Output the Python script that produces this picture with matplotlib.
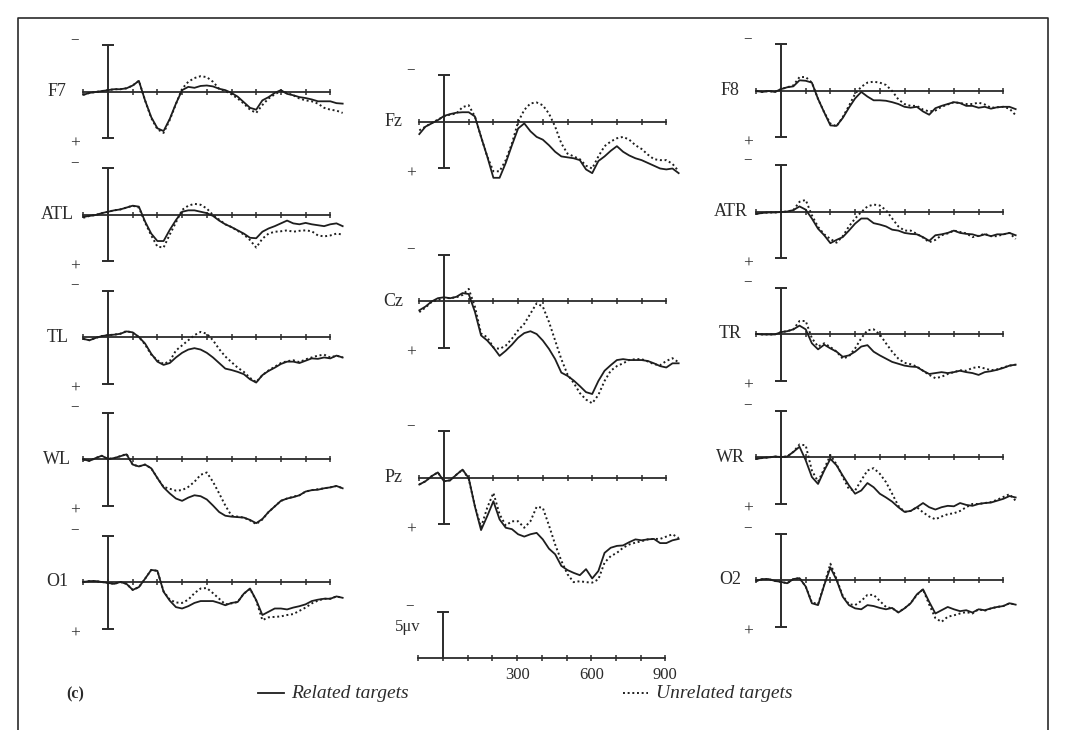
import numpy as np
import matplotlib.pyplot as plt

plt.rcParams['font.family'] = ['Liberation Serif', 'DejaVu Serif']

# sampling grid of every trace, ms after stimulus
t = np.arange(-100, 951, 25)

# grand-average ERPs in microvolts (negative drawn upward)
f7_rel = [0.3, 0.1, 0.0, -0.1, -0.2, -0.3, -0.3, -0.4,
          -0.7, -1.2, 0.9, 2.7, 3.9, 4.2, 2.9, 1.25,
          -0.2, -0.55, -0.45, -0.65, -0.7, -0.6, -0.35, -0.2,
          0.1, 0.5, 1.1, 1.7, 1.9, 0.9, 0.55, 0.1,
          -0.2, 0.2, 0.35, 0.55, 0.65, 0.8, 1.0, 1.0,
          1.0, 1.2, 1.25]
f7_unrel = [0.3, 0.1, 0.0, -0.1, -0.2, -0.3, -0.3, -0.4,
            -0.7, -1.2, 0.9, 2.8, 4.0, 4.4, 3.0, 1.3,
            -0.35, -1.1, -1.5, -1.7, -1.6, -1.1, -0.35, -0.1,
            0.25, 0.7, 1.25, 1.9, 2.25, 1.4, 0.7, 0.25,
            -0.1, 0.1, 0.35, 0.7, 0.9, 1.0, 1.25, 1.7,
            1.9, 2.0, 2.25]
atl_rel = [0.2, 0.1, 0.0, -0.2, -0.35, -0.5, -0.6, -0.8,
           -1.0, -0.9, 0.7, 2.0, 2.8, 2.8, 1.6, 0.55,
           -0.35, -0.5, -0.5, -0.35, -0.2, 0.1, 0.6, 1.0,
           1.3, 1.65, 2.0, 2.45, 2.5, 1.8, 1.45, 1.2,
           0.9, 0.6, 0.9, 1.0, 0.85, 1.0, 1.1, 1.2,
           1.0, 0.9, 1.2]
atl_unrel = [0.3, 0.1, 0.0, -0.2, -0.35, -0.5, -0.6, -0.8,
             -1.0, -0.8, 0.8, 2.2, 3.4, 3.5, 2.1, 0.8,
             -0.55, -1.0, -1.2, -1.1, -0.7, 0.0, 0.5, 1.0,
             1.3, 1.7, 2.1, 2.7, 3.5, 2.55, 2.0, 1.8,
             1.75, 1.65, 1.8, 1.7, 1.65, 1.75, 2.2, 2.3,
             2.2, 2.0, 2.1]
tl_rel = [0.2, 0.35, 0.1, -0.1, -0.2, -0.25, -0.35, -0.6,
          -0.5, 0.0, 0.7, 1.8, 2.65, 3.0, 2.8, 2.2,
          1.7, 1.35, 1.2, 1.35, 1.7, 2.2, 2.8, 3.4,
          3.55, 3.75, 4.0, 4.55, 4.9, 4.1, 3.65, 3.3,
          2.9, 2.65, 2.65, 2.8, 2.55, 2.3, 2.35, 2.2,
          2.3, 2.0, 2.2]
tl_unrel = [0.2, 0.35, 0.1, -0.1, -0.2, -0.25, -0.35, -0.65,
            -0.45, 0.0, 0.8, 1.9, 2.5, 2.9, 2.6, 1.45,
            0.9, 0.35, -0.2, -0.55, -0.35, 0.35, 1.3, 2.1,
            2.7, 3.3, 3.75, 4.4, 4.85, 4.1, 3.6, 3.2,
            2.8, 2.6, 2.5, 2.7, 2.4, 2.2, 2.0, 1.9,
            2.2, 2.0, 2.2]
wl_rel = [0.05, 0.2, -0.1, -0.35, 0.0, -0.1, -0.3, -0.5,
          0.6, 0.8, 0.6, 1.0, 2.05, 3.05, 3.7, 4.25,
          4.5, 4.15, 3.9, 4.0, 4.35, 5.0, 5.7, 6.1,
          6.2, 6.25, 6.3, 6.55, 6.9, 6.45, 5.7, 5.1,
          4.5, 4.25, 4.1, 3.9, 3.5, 3.35, 3.3, 3.15,
          3.05, 2.9, 3.15]
wl_unrel = [0.05, 0.2, -0.1, -0.35, 0.0, -0.1, -0.3, -0.55,
            0.6, 0.8, 0.6, 1.0, 2.05, 3.0, 3.2, 3.4,
            3.35, 3.0, 2.45, 1.7, 1.45, 2.45, 3.7, 5.0,
            6.1, 6.2, 6.3, 6.6, 7.0, 6.5, 5.7, 5.1,
            4.5, 4.25, 4.05, 3.9, 3.5, 3.35, 3.25, 3.15,
            3.05, 2.9, 3.15]
o1_rel = [0.0, -0.1, -0.1, 0.0, 0.1, 0.2, 0.0, 0.2,
          0.85, 0.55, -0.35, -1.3, -1.2, 1.05, 2.0, 2.7,
          2.85, 2.6, 2.25, 2.05, 2.05, 2.05, 2.25, 2.5,
          2.25, 2.15, 1.25, 0.7, 1.95, 3.55, 3.2, 2.85,
          2.85, 2.95, 2.75, 2.6, 2.4, 2.05, 1.9, 1.8,
          1.8, 1.55, 1.7]
o1_unrel = [0.0, -0.1, -0.1, 0.0, 0.1, 0.2, 0.0, 0.2,
            0.85, 0.55, -0.35, -1.3, -1.2, 1.0, 1.9, 2.2,
            2.25, 1.9, 1.2, 0.7, 0.65, 1.2, 1.8, 2.4,
            2.3, 2.15, 1.25, 0.75, 2.0, 4.1, 3.8, 3.75,
            3.7, 3.55, 3.45, 3.1, 2.75, 2.3, 2.0, 1.8,
            1.8, 1.55, 1.7]
fz_rel = [1.3, 0.5, 0.15, -0.2, -0.65, -0.85, -1.0, -1.05,
          -1.05, -0.6, 1.6, 3.7, 6.0, 6.0, 4.4, 2.5,
          0.7, 0.15, 1.0, 1.6, 1.9, 2.5, 3.2, 3.7,
          3.8, 3.9, 4.1, 5.1, 5.5, 4.2, 3.7, 3.1,
          2.6, 3.2, 3.6, 3.9, 4.1, 4.4, 4.7, 5.0,
          5.1, 5.0, 5.5]
fz_unrel = [0.9, 0.5, 0.1, -0.25, -0.6, -0.8, -0.9, -1.6,
            -1.8, -0.6, 1.6, 3.7, 5.3, 5.3, 4.1, 2.3,
            0.0, -1.3, -2.0, -2.1, -1.8, -0.9, 0.5, 2.3,
            3.4, 3.7, 4.0, 4.7, 5.0, 3.7, 2.6, 2.1,
            1.75, 1.6, 1.9, 2.5, 2.9, 3.5, 4.0, 4.1,
            4.1, 4.5, 5.3]
cz_rel = [1.0, 0.6, 0.05, -0.3, -0.4, -0.3, -0.45, -0.85,
          -0.75, 1.15, 3.7, 4.25, 5.0, 5.9, 5.35, 4.7,
          3.95, 3.45, 3.25, 3.55, 4.25, 5.15, 6.25, 7.7,
          8.05, 8.55, 9.15, 9.8, 10.0, 8.6, 7.5, 6.9,
          6.35, 6.25, 6.35, 6.35, 6.35, 6.45, 6.7, 7.0,
          7.15, 6.7, 6.7]
cz_unrel = [1.2, 0.7, 0.1, -0.1, -0.35, -0.3, -0.4, -0.65,
            -1.3, 0.6, 3.5, 3.9, 5.0, 5.15, 4.8, 4.05,
            3.15, 2.45, 1.35, 0.25, 0.6, 2.25, 4.25, 6.25,
            7.9, 8.8, 9.9, 10.6, 11.0, 10.1, 8.6, 7.5,
            7.0, 6.7, 6.35, 6.25, 6.25, 6.5, 6.8, 6.9,
            6.45, 6.15, 6.6]
pz_rel = [0.7, 0.35, -0.2, -0.6, 0.35, 0.25, -0.35, -0.9,
          0.0, 3.05, 5.6, 4.1, 2.5, 4.45, 5.35, 5.5,
          6.05, 6.3, 6.05, 5.9, 6.6, 7.6, 8.2, 9.45,
          9.9, 10.2, 10.45, 9.8, 10.8, 10.0, 8.05, 7.5,
          7.3, 7.25, 6.9, 6.6, 6.7, 6.6, 6.55, 7.0,
          7.0, 6.7, 6.55]
pz_unrel = [0.7, 0.35, -0.2, -0.6, 0.35, 0.25, -0.35, -0.9,
            0.1, 3.0, 5.3, 3.2, 1.6, 3.9, 5.1, 4.65,
            4.65, 5.35, 4.65, 3.1, 3.2, 5.1, 7.15, 8.9,
            10.35, 11.2, 11.1, 11.2, 11.25, 10.9, 9.1, 8.4,
            8.05, 7.5, 7.15, 6.95, 6.8, 6.6, 6.55, 6.55,
            6.3, 6.05, 6.45]
f8_rel = [0.0, 0.1, 0.0, 0.1, -0.2, -0.4, -0.5, -1.15,
          -1.1, -0.9, 0.85, 2.3, 3.7, 3.75, 2.9, 1.8,
          0.8, 0.1, 0.6, 1.0, 1.0, 1.05, 1.2, 1.4,
          1.7, 1.8, 1.7, 2.2, 2.55, 1.85, 1.6, 1.4,
          1.2, 1.3, 1.6, 1.6, 1.8, 1.7, 1.9, 1.75,
          1.7, 1.7, 1.95]
f8_unrel = [0.0, 0.1, 0.0, 0.1, -0.2, -0.4, -0.6, -1.5,
            -1.5, -0.9, 0.85, 2.3, 3.5, 3.8, 2.8, 1.6,
            0.3, -0.45, -0.9, -1.0, -0.9, -0.65, 0.0, 0.9,
            1.4, 1.6, 1.6, 2.0, 2.2, 2.1, 1.7, 1.45,
            1.2, 1.3, 1.4, 1.4, 1.25, 1.45, 1.8, 1.75,
            1.7, 1.9, 2.6]
atr_rel = [0.2, 0.1, 0.05, 0.05, 0.0, -0.05, -0.2, -0.6,
           -0.25, 0.7, 1.8, 2.5, 3.35, 3.0, 2.7, 2.0,
           1.25, 0.7, 0.7, 1.2, 1.35, 1.55, 1.9, 2.0,
           2.25, 2.35, 2.4, 2.7, 3.1, 2.5, 2.4, 2.25,
           2.0, 2.25, 2.35, 2.4, 2.6, 2.4, 2.6, 2.4,
           2.4, 2.25, 2.5]
atr_unrel = [0.2, 0.1, 0.05, 0.05, 0.0, -0.05, -0.2, -1.1,
             -1.3, 0.35, 1.6, 2.4, 2.9, 3.3, 2.6, 1.55,
             0.7, 0.0, -0.6, -0.8, -0.7, -0.2, 0.7, 1.55,
             2.0, 2.0, 2.35, 2.75, 3.25, 3.0, 2.5, 2.3,
             2.0, 2.15, 2.3, 2.7, 2.55, 2.35, 2.6, 2.6,
             2.4, 2.25, 2.9]
tr_rel = [0.0, 0.05, 0.05, 0.05, -0.2, -0.3, -0.5, -0.9,
          -0.5, 1.0, 1.65, 1.15, 1.55, 1.9, 2.45, 2.3,
          1.9, 1.35, 1.2, 1.9, 2.3, 2.65, 3.0, 3.2,
          3.4, 3.5, 3.55, 3.95, 4.3, 4.2, 4.1, 4.2,
          4.1, 3.95, 4.1, 4.2, 4.4, 4.1, 4.0, 3.85,
          3.65, 3.4, 3.3]
tr_unrel = [0.0, 0.05, 0.05, 0.05, -0.2, -0.3, -0.5, -1.4,
            -1.4, 0.45, 1.35, 1.0, 1.4, 1.9, 2.65, 2.4,
            1.55, 0.45, -0.4, -0.5, 0.05, 1.0, 1.9, 2.65,
            3.1, 3.25, 3.5, 3.95, 4.4, 4.75, 4.6, 4.3,
            4.1, 3.9, 3.95, 3.65, 3.55, 3.7, 3.9, 3.8,
            3.6, 3.4, 3.3]
wr_rel = [0.2, 0.1, 0.05, -0.05, 0.0, -0.05, -0.55, -1.1,
          0.35, 2.15, 2.9, 1.45, 0.2, 0.9, 2.0, 3.05,
          3.95, 3.6, 2.8, 3.25, 3.95, 4.35, 4.8, 5.4,
          5.9, 5.8, 5.4, 4.95, 5.4, 5.65, 5.4, 5.25,
          5.3, 4.95, 5.15, 5.25, 5.05, 4.95, 4.9, 4.7,
          4.5, 4.2, 4.35]
wr_unrel = [0.2, 0.1, 0.05, -0.05, 0.0, -0.05, -0.55, -1.35,
            -1.25, 1.45, 2.65, 1.25, -0.2, 0.8, 2.15, 3.45,
            3.6, 2.5, 1.45, 1.2, 1.8, 2.7, 3.95, 5.25,
            5.9, 5.8, 5.4, 5.95, 6.4, 6.7, 6.4, 6.15,
            6.05, 5.8, 5.4, 5.05, 5.05, 4.95, 4.85, 4.6,
            4.3, 4.0, 4.7]
o2_rel = [0.1, -0.1, -0.1, 0.1, 0.2, 0.35, -0.1, -0.2,
          0.7, 2.5, 2.7, 0.55, -1.35, 0.0, 1.8, 2.7,
          3.05, 3.15, 2.7, 2.8, 3.0, 3.15, 3.0, 3.5,
          3.05, 2.5, 1.55, 1.0, 2.35, 3.6, 3.25, 2.9,
          3.15, 3.35, 3.25, 3.5, 3.15, 3.25, 3.05, 2.9,
          2.8, 2.5, 2.65]
o2_unrel = [0.1, -0.1, -0.1, 0.1, 0.2, 0.35, -0.1, -0.2,
            0.7, 2.4, 2.6, 0.5, -1.75, -0.1, 1.7, 2.6,
            2.7, 2.25, 1.6, 1.6, 2.25, 2.9, 3.05, 3.45,
            3.05, 2.5, 1.6, 1.0, 2.65, 4.1, 4.5, 3.95,
            3.8, 3.6, 3.45, 3.6, 3.15, 3.3, 3.05, 2.9,
            2.8, 2.5, 2.65]

axis_ticks = [-100, 0, 100, 200, 300, 400, 500, 600, 700, 800, 900]
scale_labels = [300, 600, 900]

W, H = 1067, 730
MS_PX = 0.247   # pixels per ms
UV_PX = 9.3     # pixels per microvolt
INK = '#2b2b2b'

fig = plt.figure(figsize=(W / 100, H / 100), dpi=100)

# page frame and legend live in a pixel-space background axes
bg = fig.add_axes([0, 0, 1, 1])
bg.set_xlim(0, W)
bg.set_ylim(H, 0)
bg.axis('off')
bg.plot([18, 18, 1048, 1048], [H, 18, 18, H], color=INK, lw=1.2)


def make_axes(x0, y0):
    # axes whose data origin (0 ms, 0 uV) sits at pixel (x0, y0)
    left = x0 - 150 * MS_PX
    bottom = y0 + 13 * UV_PX
    ax = fig.add_axes([left / W, 1 - bottom / H, 1150 * MS_PX / W, 21 * UV_PX / H])
    ax.set_xlim(-150, 1000)
    ax.set_ylim(13, -8)
    ax.axis('off')
    return ax


def draw_frame(ax, scale=False):
    ax.plot([axis_ticks[0], axis_ticks[-1]], [0, 0], color=INK, lw=1.3, clip_on=False)
    ax.plot(axis_ticks, [0] * len(axis_ticks), ls='none', marker='|', ms=5,
            mew=1.1, color=INK, clip_on=False)
    if scale:
        ax.plot([0, 0], [0, -5], color=INK, lw=1.4)
        ax.plot([-22, 22], [-5, -5], color=INK, lw=1.4)
    else:
        ax.errorbar([0], [0], yerr=[5], fmt='none', ecolor=INK, elinewidth=1.4,
                    capsize=4.5, capthick=1.4)
        ax.text(-135, 5.6, '+', ha='center', va='center', fontsize=12.5, color=INK)
    ax.text(-135, -5.6, '−', ha='center', va='center', fontsize=11, color=INK)


def panel(x0, y0, name, rel, unrel):
    ax = make_axes(x0, y0)
    draw_frame(ax)
    ax.plot(t, rel, color='#1e1e1e', lw=1.3, clip_on=False)
    ax.plot(t, unrel, color='#1e1e1e', lw=1.4, ls=(0, (1, 1.4)), clip_on=False)
    ax.text(-205, 0, name, ha='center', va='center', fontsize=13, color=INK)


# left column
panel(108, 92, 'F7', f7_rel, f7_unrel)
panel(108, 215, 'ATL', atl_rel, atl_unrel)
panel(108, 337, 'TL', tl_rel, tl_unrel)
panel(108, 459, 'WL', wl_rel, wl_unrel)
panel(108, 582, 'O1', o1_rel, o1_unrel)

# midline
panel(444, 122, 'Fz', fz_rel, fz_unrel)
panel(444, 301, 'Cz', cz_rel, cz_unrel)
panel(444, 478, 'Pz', pz_rel, pz_unrel)

# right column
panel(781, 91, 'F8', f8_rel, f8_unrel)
panel(781, 212, 'ATR', atr_rel, atr_unrel)
panel(781, 334, 'TR', tr_rel, tr_unrel)
panel(781, 457, 'WR', wr_rel, wr_unrel)
panel(781, 580, 'O2', o2_rel, o2_unrel)

# calibration panel
sc = make_axes(443, 658)
draw_frame(sc, scale=True)
sc.text(-90, -3.3, '5μv', ha='right', va='center', fontsize=12, color=INK)
for v in scale_labels:
    sc.text(v, 1.0, str(v), ha='center', va='top', fontsize=12, color=INK)

# legend row
bg.text(66, 694, '(c)', ha='left', va='center', fontsize=11.5, fontweight='bold', color=INK)
bg.plot([258, 284], [693, 693], color='#1e1e1e', lw=1.3)
bg.text(291, 694, 'Related targets', ha='left', va='center', fontsize=14,
        style='italic', color=INK)
bg.plot([623, 648], [693, 693], color='#1e1e1e', lw=1.4, ls=(0, (1, 1.4)))
bg.text(656, 694, 'Unrelated targets', ha='left', va='center', fontsize=14,
        style='italic', color=INK)

fig.savefig('out.png', dpi=100)
